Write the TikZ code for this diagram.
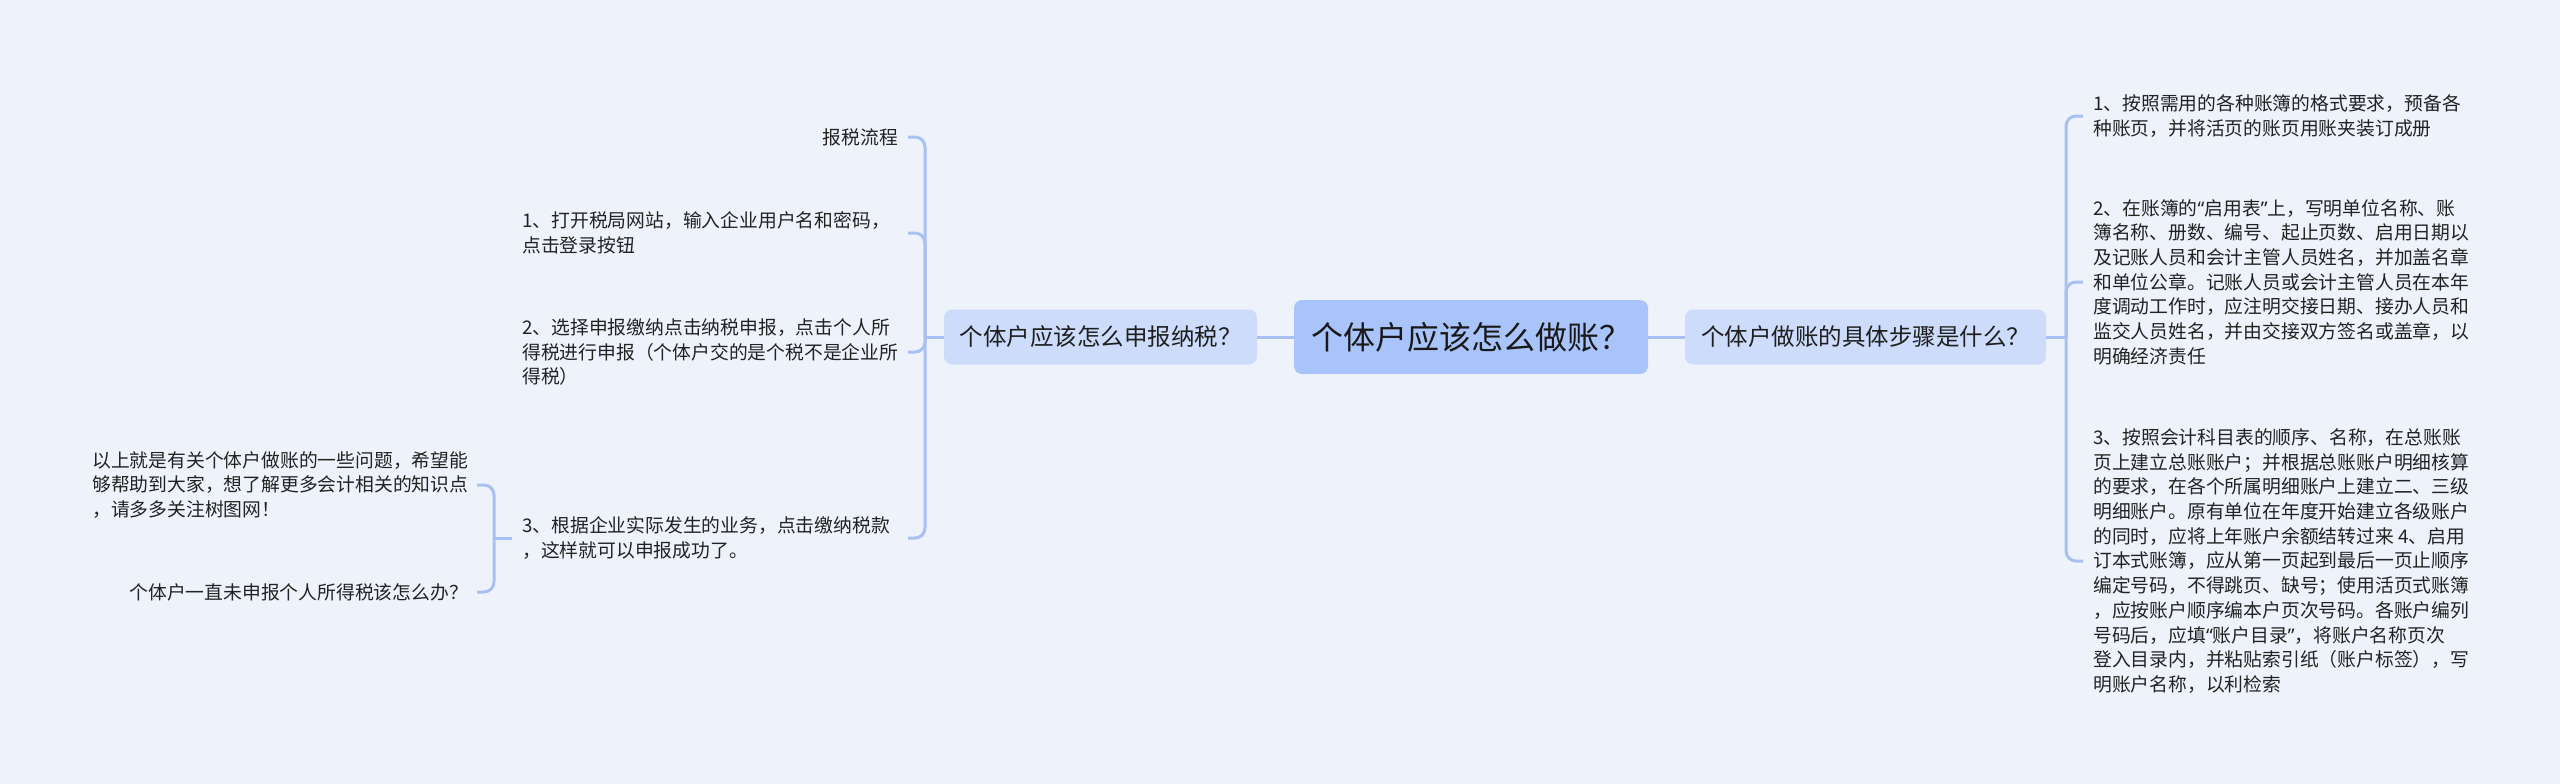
\documentclass[tikz,border=0pt]{standalone}
\usepackage{fontspec}
\setmainfont{Noto Sans CJK SC}
\newfontfamily\qfont{Noto Sans}
\usetikzlibrary{calc}
\definecolor{bgc}{HTML}{EEF3FB}
\definecolor{rootc}{HTML}{A9C4FA}
\definecolor{mainc}{HTML}{CCDCFA}
\definecolor{linec}{HTML}{A8C0F2}
\definecolor{txtc}{HTML}{222222}
\begin{document}
\begin{tikzpicture}[x=1pt,y=-1pt,
  txt/.style={inner sep=0pt, font=\fontsize{18.8}{24.7}\selectfont, text=txtc, align=left},
  wtxt/.style={txt, text width=380pt},
  rootbox/.style={fill=rootc, rounded corners=8pt, inner sep=0pt, minimum width=354pt, minimum height=74pt, font=\fontsize{32}{38}\selectfont, text=black!90},
  mainbox/.style={fill=mainc, rounded corners=8pt, inner sep=0pt, minimum height=55pt, font=\fontsize{23.5}{28}\selectfont, text=black!88},
  link/.style={draw=linec, line width=3pt},
  branch/.style={draw=linec, line width=3pt, rounded corners=10pt}
]
\useasboundingbox (0,0) rectangle (2560,784);
\fill[bgc] (0,0) rectangle (2560,784);

% main nodes
\node[rootbox] (root) at (1471,337) {个体户应该怎么做账？};
\node[mainbox, minimum width=313pt] (lnode) at (1100.5,337) {个体户应该怎么申报纳税？};
\node[mainbox, minimum width=361pt] (rnode) at (1865.5,337) {个体户做账的具体步骤是什么？};

\coordinate (jL) at (925,337);
\coordinate (jR) at (2066,337);
\coordinate (jS) at (494,538);

% left children
\node[txt, anchor=east] (lt0) at (898,137) {报税流程};
\node[wtxt, anchor=west] (lt1) at (522,233) {1、打开税局网站，输入企业用户名和密码，\\点击登录按钮};
\node[wtxt, anchor=west] (lt2) at (522,352) {2、选择申报缴纳点击纳税申报，点击个人所\\得税进行申报（个体户交的是个税不是企业所\\得税）};
\node[wtxt, anchor=west] (lt3) at (522,538) {3、根据企业实际发生的业务，点击缴纳税款\\，这样就可以申报成功了。};

% sub children of item 3
\node[wtxt, anchor=west] (sA) at (92,485) {以上就是有关个体户做账的一些问题，希望能\\够帮助到大家，想了解更多会计相关的知识点\\，请多多关注树图网！};
\node[txt, anchor=east] (sB) at (468,592) {个体户一直未申报个人所得税该怎么办？};

% right children
\node[txt, anchor=west] (rt1) at (2093,116) {1、按照需用的各种账簿的格式要求，预备各\\种账页，并将活页的账页用账夹装订成册};
\node[txt, anchor=west] (rt2) at (2093,282) {2、在账簿的{\qfont “}启用表{\qfont ”}上，写明单位名称、账\\簿名称、册数、编号、起止页数、启用日期以\\及记账人员和会计主管人员姓名，并加盖名章\\和单位公章。记账人员或会计主管人员在本年\\度调动工作时，应注明交接日期、接办人员和\\监交人员姓名，并由交接双方签名或盖章，以\\明确经济责任};
\node[txt, anchor=west] (rt3) at (2093,561) {3、按照会计科目表的顺序、名称，在总账账\\页上建立总账账户；并根据总账账户明细核算\\的要求，在各个所属明细账户上建立二、三级\\明细账户。原有单位在年度开始建立各级账户\\的同时，应将上年账户余额结转过来 4、启用\\订本式账簿，应从第一页起到最后一页止顺序\\编定号码，不得跳页、缺号；使用活页式账簿\\，应按账户顺序编本户页次号码。各账户编列\\号码后，应填{\qfont “}账户目录{\qfont ”}，将账户名称页次\\登入目录内，并粘贴索引纸（账户标签），写\\明账户名称，以利检索};

% connectors
\draw[link] (root.west) -- (lnode.east);
\draw[link] (root.east) -- (rnode.west);
\draw[link] (lnode.west) -- (jL);
\draw[link] (rnode.east) -- (jR);

\foreach \n in {lt0,lt1,lt2,lt3}
  \draw[branch] (jL) |- ($(\n.east -| jL)+(-17,0)$);
\foreach \n in {rt1,rt2,rt3}
  \draw[branch] (jR) |- ($(\n.west -| jR)+(17,0)$);

\draw[link] ($(lt3.west)+(-10,0)$) -- (jS);
\foreach \n in {sA,sB}
  \draw[branch] (jS) |- ($(\n.east -| jS)+(-17,0)$);
\end{tikzpicture}
\end{document}
